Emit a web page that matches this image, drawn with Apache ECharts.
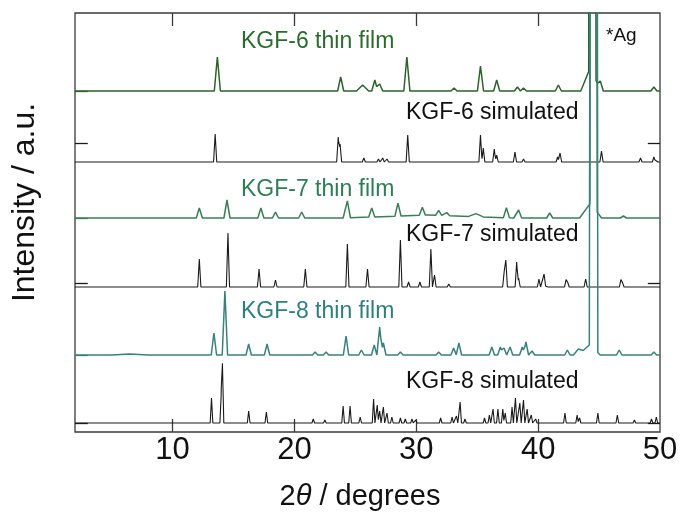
<!DOCTYPE html>
<html>
<head>
<meta charset="utf-8">
<script src="https://cdn.jsdelivr.net/npm/echarts@6/dist/echarts.min.js"></script>
<style>
  html, body { margin: 0; padding: 0; background: #fff; }
  #chart { width: 680px; height: 512px; }
</style>
</head>
<body>
<div id="chart"></div>
<script>
// ---- data (2θ in degrees, intensity in arbitrary units above each pattern's own baseline) ----
const xTickLabels = [10, 20, 30, 40, 50];
const xTicks = [10, 20, 30, 40];

// peaks: [2θ, intensity, optional half-base width in degrees]
const kgf6Film = [
  [13.68, 34], [23.8, 14], [25.6, 6, 0.5], [26.6, 11], [27.0, 7], [29.23, 34],
  [33.1, 3], [35.27, 25], [36.6, 11], [38.3, 4], [38.8, 3], [41.66, 6],
  [44.3, 24, 0.8], [44.45, 3000, 0.3], [45.1, 10], [49.5, 4]
];
const kgf6Sim = [
  [13.5, 28], [17.5, 2], [22.1, 1], [23.6, 25], [23.75, 18], [25.7, 4],
  [26.9, 3], [27.25, 4], [27.6, 3], [29.3, 27], [33.0, 2], [35.27, 27], [35.5, 14],
  [36.4, 13], [36.6, 7], [38.1, 10], [38.8, 3], [41.6, 5], [41.8, 9],
  [45.2, 11], [48.4, 4], [49.5, 5], [49.7, 4]
];
const kgf7Film = [
  [12.2, 10], [14.47, 18], [17.25, 10], [18.45, 6], [20.6, 6], [24.35, 17],
  [26.35, 9], [28.5, 13], [30.5, 8], [31.84, 5], [32.5, 3], [34.9, 3, 0.6],
  [31.0, 3, 7], [37.4, 10], [38.4, 8], [40.95, 5], [44.3, 15, 0.9],
  [44.55, 3000, 0.3], [47.0, 2]
];
const kgf7Sim = [
  [12.2, 28], [14.55, 54], [17.1, 18], [18.45, 7], [20.9, 18], [24.35, 43],
  [26.0, 18], [28.7, 47], [29.37, 5], [30.3, 5], [31.2, 38], [31.5, 12],
  [32.67, 3], [34.45, 1], [37.22, 16], [37.35, 27], [38.24, 25], [38.4, 9],
  [40.07, 8], [40.49, 13], [40.7, 2], [42.3, 8], [42.42, 5], [43.9, 8],
  [46.8, 8], [46.92, 4]
];
const kgf8Film = [
  [6.5, 1, 1.5], [13.4, 22], [14.3, 64], [16.25, 11], [17.76, 11], [21.7, 3],
  [22.6, 3], [24.24, 19], [25.5, 5], [26.55, 10], [27.0, 28], [27.3, 12],
  [28.7, 3], [31.84, 3], [33.07, 7], [33.5, 12], [36.2, 8], [36.9, 8],
  [37.2, 7], [37.7, 8], [38.7, 8], [39.0, 13], [39.5, 4], [42.4, 5],
  [43.3, 6, 0.4], [44.2, 10, 0.9], [44.6, 3000, 0.3], [46.65, 5], [49.5, 3]
];
const kgf8Sim = [
  [13.2, 25], [14.0, 30], [14.1, 57], [16.25, 12], [17.7, 11], [21.55, 4],
  [22.5, 3], [24.0, 17], [24.57, 17], [25.4, 6], [26.5, 24], [26.8, 18],
  [27.0, 12], [27.3, 16], [27.6, 10], [28.0, 6], [28.7, 5], [29.1, 4],
  [29.65, 4], [29.95, 3], [32.0, 5], [32.94, 6], [33.3, 7], [33.6, 21],
  [34.0, 4], [35.6, 5], [36.0, 8], [36.3, 14], [36.7, 14], [37.1, 14],
  [37.3, 10], [37.86, 16], [38.14, 25], [38.5, 20], [38.8, 23], [39.1, 14],
  [39.44, 8], [39.8, 4], [42.2, 10], [43.2, 8], [43.4, 5], [44.9, 10],
  [46.5, 8], [47.9, 3], [49.3, 4], [49.7, 6]
];

// ---- layout / style config ----
const X_MIN = 2, X_MAX = 50, Y_MAX = 419;
const FONT = '"Liberation Sans", Arial, Helvetica, sans-serif';
const traces = [
  { name: 'KGF-6 thin film', peaks: kgf6Film, base: 341, hw: 0.25, color: '#2d622d', width: 1.5, tick: 341, right: false },
  { name: 'KGF-6 simulated', peaks: kgf6Sim, base: 270, hw: 0.13, color: '#1a1a1a', width: 1.1, tick: 289, right: true },
  { name: 'KGF-7 thin film', peaks: kgf7Film, base: 214, hw: 0.25, color: '#3a7d58', width: 1.5, tick: 214, right: false },
  { name: 'KGF-7 simulated', peaks: kgf7Sim, base: 145, hw: 0.13, color: '#1a1a1a', width: 1.1, tick: 149, right: true },
  { name: 'KGF-8 thin film', peaks: kgf8Film, base: 77, hw: 0.22, color: '#3a807c', width: 1.5, tick: 77, right: false },
  { name: 'KGF-8 simulated', peaks: kgf8Sim, base: 9, hw: 0.11, color: '#1a1a1a', width: 1.1, tick: 9, right: true }
];
const labels = [
  { text: 'KGF-6 thin film', x: 241, y: 42, color: '#2d6a2f', size: 23 },
  { text: 'KGF-6 simulated', x: 406, y: 113, color: '#111', size: 23 },
  { text: 'KGF-7 thin film', x: 241, y: 190, color: '#2e7d57', size: 23 },
  { text: 'KGF-7 simulated', x: 406, y: 235, color: '#111', size: 23 },
  { text: 'KGF-8 thin film', x: 241, y: 312, color: '#2e7f7b', size: 23 },
  { text: 'KGF-8 simulated', x: 406, y: 382, color: '#111', size: 23 },
  { text: '*Ag', x: 606, y: 36, color: '#111', size: 19 }
];

// Piecewise-linear stick pattern: each listed peak drawn as a narrow triangle
function buildLine(peaks, hw, base) {
  const xs = new Set([X_MIN, X_MAX]);
  peaks.forEach(p => {
    const w = p[2] || hw;
    xs.add(+(p[0] - w).toFixed(4)); xs.add(p[0]); xs.add(+(p[0] + w).toFixed(4));
  });
  return Array.from(xs).filter(x => x >= X_MIN && x <= X_MAX).sort((a, b) => a - b).map(x => {
    let y = base;
    peaks.forEach(p => {
      const w = p[2] || hw;
      const d = Math.abs(x - p[0]);
      if (d < w) y += p[1] * (1 - d / w);
    });
    return [x, y];
  });
}

const series = traces.map(t => {
  const ml = [[{ coord: [X_MIN, t.tick] }, { coord: [X_MIN + 1.05, t.tick] }]];
  if (t.right) ml.push([{ coord: [X_MAX - 1.0, t.tick] }, { coord: [X_MAX, t.tick] }]);
  return {
    name: t.name,
    type: 'line',
    data: buildLine(t.peaks, t.hw, t.base),
    showSymbol: false,
    symbol: 'none',
    clip: true,
    lineStyle: { color: t.color, width: t.width },
    itemStyle: { color: t.color },
    markLine: {
      silent: true, symbol: 'none', label: { show: false },
      lineStyle: { color: t.color, width: 1.3, type: 'solid' },
      data: ml
    }
  };
});

const chart = echarts.init(document.getElementById('chart'), null, { renderer: 'canvas' });
chart.setOption({
  animation: false,
  backgroundColor: '#fff',
  textStyle: { fontFamily: FONT },
  grid: {
    left: 75, right: 20, top: 13, bottom: 80, show: true,
    borderColor: '#3a3a3a', borderWidth: 1.3,
    containLabel: false, outerBoundsMode: 'none'
  },
  xAxis: [{
    type: 'value', min: X_MIN, max: X_MAX, position: 'bottom',
    axisLine: { show: false },
    axisTick: { show: true, inside: true, length: 13, customValues: xTicks, lineStyle: { color: '#3a3a3a', width: 1.3 } },
    axisLabel: { customValues: xTickLabels, fontSize: 31, margin: 3, color: '#111', fontFamily: FONT },
    splitLine: { show: false },
    name: '2{it|θ} / degrees',
    nameLocation: 'middle', nameGap: 50,
    nameTextStyle: {
      fontSize: 29, color: '#111', fontFamily: FONT, padding: [0, 15, 0, 0],
      rich: { it: { fontStyle: 'italic', fontSize: 29, color: '#111', fontFamily: FONT } }
    }
  }, {
    type: 'value', min: X_MIN, max: X_MAX, position: 'top',
    axisLine: { show: false },
    axisTick: { show: true, inside: true, length: 13, customValues: xTicks, lineStyle: { color: '#3a3a3a', width: 1.3 } },
    axisLabel: { show: false },
    splitLine: { show: false }
  }],
  yAxis: {
    type: 'value', min: 0, max: Y_MAX,
    axisLine: { show: false }, axisTick: { show: false }, axisLabel: { show: false },
    splitLine: { show: false },
    name: 'Intensity / a.u.', nameLocation: 'middle', nameGap: 34, nameRotate: 90,
    nameTextStyle: { fontSize: 32, color: '#111', fontFamily: FONT, padding: [0, 0, 0, 40] }
  },
  series: series,
  graphic: labels.map(l => ({
    type: 'text', left: l.x, top: l.y - l.size / 2, silent: true, z: 100,
    style: { text: l.text, fill: l.color, font: l.size + 'px ' + FONT }
  }))
});
</script>
</body>
</html>
